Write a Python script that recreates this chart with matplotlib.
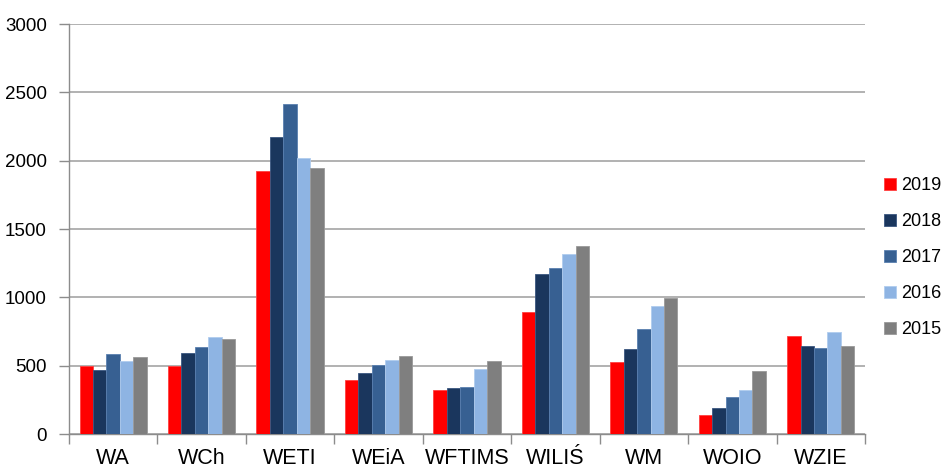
import numpy as np
import matplotlib.pyplot as plt

plt.rcParams['font.family'] = ['Liberation Sans', 'DejaVu Sans']

faculties = ['WA', 'WCh', 'WETI', 'WEiA', 'WFTIMS', 'WILIŚ', 'WM', 'WOIO', 'WZIE']
years = ['2019', '2018', '2017', '2016', '2015']
v2019 = [500, 500, 1924, 397, 320, 892, 529, 137, 717]
v2018 = [466, 595, 2173, 449, 337, 1168, 622, 190, 641]
v2017 = [588, 639, 2414, 502, 344, 1212, 768, 268, 631]
v2016 = [534, 707, 2019, 543, 476, 1317, 934, 320, 744]
v2015 = [561, 698, 1946, 571, 536, 1375, 997, 459, 641]
series = [v2019, v2018, v2017, v2016, v2015]
colors = ['#FF0000', '#1A365D', '#376092', '#8EB4E3', '#7F7F7F']
edges = ['#FF4040', '#3A5680', '#5A80B0', '#B0CCEE', '#9A9A9A']

fig = plt.figure(figsize=(9.42, 4.72), dpi=100)
ax = fig.add_axes([0.0732, 0.0805, 0.8450, 0.8685])

x = np.arange(len(faculties))
w = 0.152
for i, (vals, c, ec) in enumerate(zip(series, colors, edges)):
    ax.bar(x + (i - 2) * w, vals, width=w, color=c, edgecolor=ec,
           linewidth=0.6, label=years[i], zorder=3)

ax.set_xlim(-0.5, len(faculties) - 0.5)
ax.set_ylim(0, 3000)
ax.set_yticks(range(0, 3001, 500))
ax.yaxis.grid(True, color='#ABABAB', linewidth=1.3, zorder=0)
ax.set_axisbelow(True)

ax.set_xticks(x)
ax.set_xticklabels(faculties, fontsize=15.5)
ax.set_xticks(np.arange(-0.5, len(faculties)), minor=True)
ax.tick_params(axis='x', which='major', length=0, pad=10)
ax.tick_params(axis='x', which='minor', length=7, color='#8C8C8C', width=1)
ax.tick_params(axis='y', length=7, color='#8C8C8C', width=1, labelsize=13.5, pad=9)

for s in ['top', 'right']:
    ax.spines[s].set_visible(False)
for s in ['left', 'bottom']:
    ax.spines[s].set_color('#8C8C8C')
    ax.spines[s].set_linewidth(1)

ax.legend(loc='center left', bbox_to_anchor=(1.008, 0.43), frameon=False,
          fontsize=13, handlelength=0.65, handleheight=0.65,
          handletextpad=0.3, labelspacing=1.05, borderaxespad=0.3)

fig.savefig('out.png', dpi=100)
